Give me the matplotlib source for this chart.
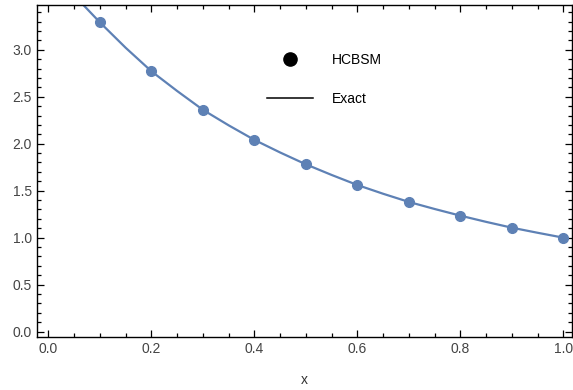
import matplotlib
matplotlib.use("Agg")
import matplotlib.pyplot as plt
from matplotlib.lines import Line2D
from matplotlib.ticker import MultipleLocator

# Data
x_pts = [0.1, 0.2, 0.3, 0.4, 0.5, 0.6, 0.7, 0.8, 0.9, 1.0]
y_pts = [3.29, 2.77, 2.36, 2.04, 1.78, 1.56, 1.38, 1.234, 1.106, 1.0]

x_exact = [0.067, 0.1, 0.15, 0.2, 0.25, 0.3, 0.35, 0.4, 0.45, 0.5, 0.55,
           0.6, 0.65, 0.7, 0.75, 0.8, 0.85, 0.9, 0.95, 1.0]
y_exact = [3.48, 3.29, 3.02, 2.77, 2.56, 2.36, 2.195, 2.04, 1.906, 1.78, 1.667,
           1.56, 1.467, 1.38, 1.305, 1.234, 1.168, 1.106, 1.052, 1.0]

labels = ["HCBSM", "Exact"]
blue = "#5E81B5"

plt.rcParams['font.family'] = ['Liberation Sans', 'DejaVu Sans']

fig = plt.figure(figsize=(5.73, 3.90), dpi=100)
ax = fig.add_axes([36.7/573, 1 - 337.3/390, (571.7-36.7)/573, (337.3-4.7)/390])

ax.plot(x_exact, y_exact, color=blue, lw=1.6, zorder=2)
ax.plot(x_pts, y_pts, 'o', color=blue, ms=7, zorder=3)

ax.set_xlim(-0.0229, 1.016)
ax.set_ylim(-0.06, 3.479)

ax.xaxis.set_major_locator(MultipleLocator(0.2))
ax.xaxis.set_minor_locator(MultipleLocator(0.05))
ax.yaxis.set_major_locator(MultipleLocator(0.5))
ax.yaxis.set_minor_locator(MultipleLocator(0.1))

ax.tick_params(which='both', direction='in', top=True, right=True,
               labeltop=False, labelright=False, colors='black',
               labelcolor='#444444', labelsize=10, width=0.9)
ax.tick_params(which='major', length=5)
ax.tick_params(which='minor', length=3)
ax.set_xticks([0.0, 0.2, 0.4, 0.6, 0.8, 1.0])
ax.set_xticklabels(["0.0", "0.2", "0.4", "0.6", "0.8", "1.0"])
for s in ax.spines.values():
    s.set_linewidth(1.0)

ax.set_xlabel("x", fontsize=10, color='#333333', labelpad=12)

handles = [Line2D([], [], ls='none', marker='o', color='black', ms=9.5),
           Line2D([], [], color='black', lw=1.1)]
leg = ax.legend(handles, labels, frameon=False, fontsize=10,
                handlelength=3.3, handletextpad=1.4, labelspacing=1.82,
                loc='upper left', bbox_to_anchor=(267/573, 1 - 53/390),
                bbox_transform=fig.transFigure, borderaxespad=0, borderpad=0)

fig.savefig("out.png", dpi=100)
